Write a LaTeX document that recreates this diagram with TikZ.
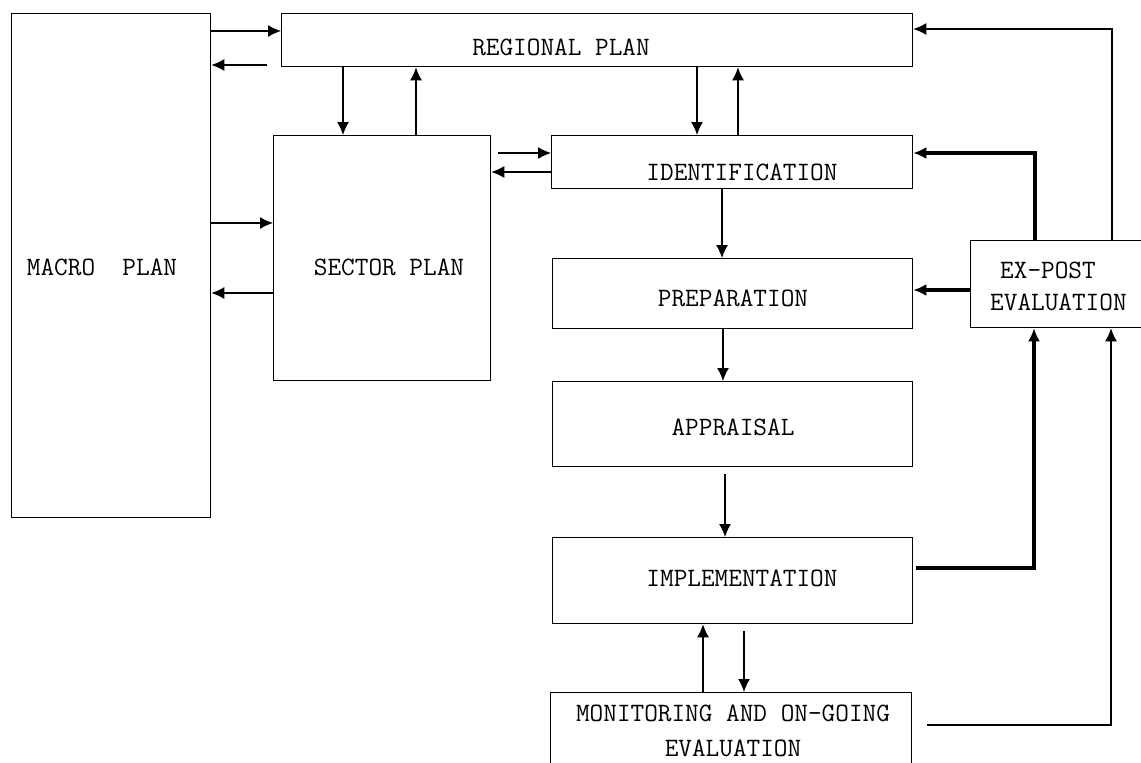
\documentclass[tikz,border=0pt]{standalone}
\usepackage{fontspec}
\usetikzlibrary{arrows.meta}
\begin{document}
\begin{tikzpicture}[x=1pt,y=-1pt,
  box/.style={draw,line width=1.3pt,inner sep=0pt,anchor=north west},
  lbl/.style={font=\ttfamily\fontsize{26.5}{30}\selectfont,inner sep=0pt},
  arr/.style={line width=1.3pt,-{Latex[length=13pt,width=12pt]}},
  tarr/.style={line width=3.2pt,-{Latex[length=13pt,width=12pt]}}]
\useasboundingbox (0,0) rectangle (1141,763);
\begin{scope}
\clip (0,0) rectangle (1141,763);
% boxes
\node[box,minimum width=199pt,minimum height=504pt] (macro) at (11,13) {};
\node[box,minimum width=631pt,minimum height=53pt] (regional) at (281,13) {};
\node[box,minimum width=217pt,minimum height=245pt] (sector) at (273,135) {};
\node[box,minimum width=361pt,minimum height=53pt] (ident) at (551,135) {};
\node[box,minimum width=360pt,minimum height=70pt] (prep) at (552,258) {};
\node[box,minimum width=360pt,minimum height=85pt] (appr) at (552,381) {};
\node[box,minimum width=360pt,minimum height=86pt] (impl) at (552,537) {};
\node[box,minimum width=361pt,minimum height=75pt] (mon) at (550,692) {};
\node[box,minimum width=200pt,minimum height=87pt] (expost) at (970,240) {};
\end{scope}
% labels
\node[lbl] (tmacro) at (102,267) {MACRO\ \ PLAN};
\node[lbl] (tregional) at (561,47) {REGIONAL PLAN};
\node[lbl] (tsector) at (389,267) {SECTOR PLAN};
\node[lbl] (tident) at (742,172) {IDENTIFICATION};
\node[lbl] (tprep) at (733,298) {PREPARATION};
\node[lbl] (tappr) at (733,427) {APPRAISAL};
\node[lbl] (timpl) at (742,578) {IMPLEMENTATION};
\node[lbl] (tmon1) at (733,713) {MONITORING AND ON-GOING};
\node[lbl] (tmon2) at (733,748) {EVALUATION};
\node[lbl,anchor=west] (texp1) at (1000,270) {EX-POST};
\node[lbl,anchor=west] (texp2) at (990,302) {EVALUATION};
% free end
\coordinate (rlfree) at (267,65);
% macro <-> regional
\draw[arr] (macro.east |- 0,31) -- (regional.west |- 0,31);
\draw[arr] (rlfree) -- (macro.east |- rlfree);
% macro <-> sector
\draw[arr] (macro.east |- 0,223) -- (sector.west |- 0,223);
\draw[arr] (sector.west |- 0,293) -- (macro.east |- 0,293);
% regional <-> sector
\draw[arr] (regional.south -| 343,0) -- (sector.north -| 343,0);
\draw[arr] (sector.north -| 416,0) -- (regional.south -| 416,0);
% regional <-> ident
\draw[arr] (regional.south -| 697,0) -- (ident.north -| 697,0);
\draw[arr] (ident.north -| 738,0) -- (regional.south -| 738,0);
% sector <-> ident
\draw[arr,shorten <=7pt] (sector.east |- 0,153) -- (ident.west |- 0,153);
\draw[arr] (ident.west |- 0,172) -- (sector.east |- 0,172);
% chain
\draw[arr] (ident.south -| 722,0) -- (prep.north -| 722,0);
\draw[arr] (prep.south -| 723,0) -- (appr.north -| 723,0);
\draw[arr,shorten <=7pt] (appr.south -| 725,0) -- (impl.north -| 725,0);
\draw[arr] (mon.north -| 703,0) -- (impl.south -| 703,0);
\draw[arr,shorten <=7pt] (impl.south -| 744,0) -- (mon.north -| 744,0);
% ex-post feedback
\draw[arr] (expost.north -| 1112,0) |- (regional.east |- 0,29);
\draw[tarr] (expost.north -| 1035,0) |- (ident.east |- 0,153);
\draw[tarr] (expost.west |- 0,290) -- (prep.east |- 0,290);
\draw[tarr,shorten <=3pt] (impl.east |- 0,568) -| (expost.south -| 1034,0);
\draw[arr,shorten <=15pt] (mon.east |- 0,725) -| (expost.south -| 1111,0);
\end{tikzpicture}
\end{document}
